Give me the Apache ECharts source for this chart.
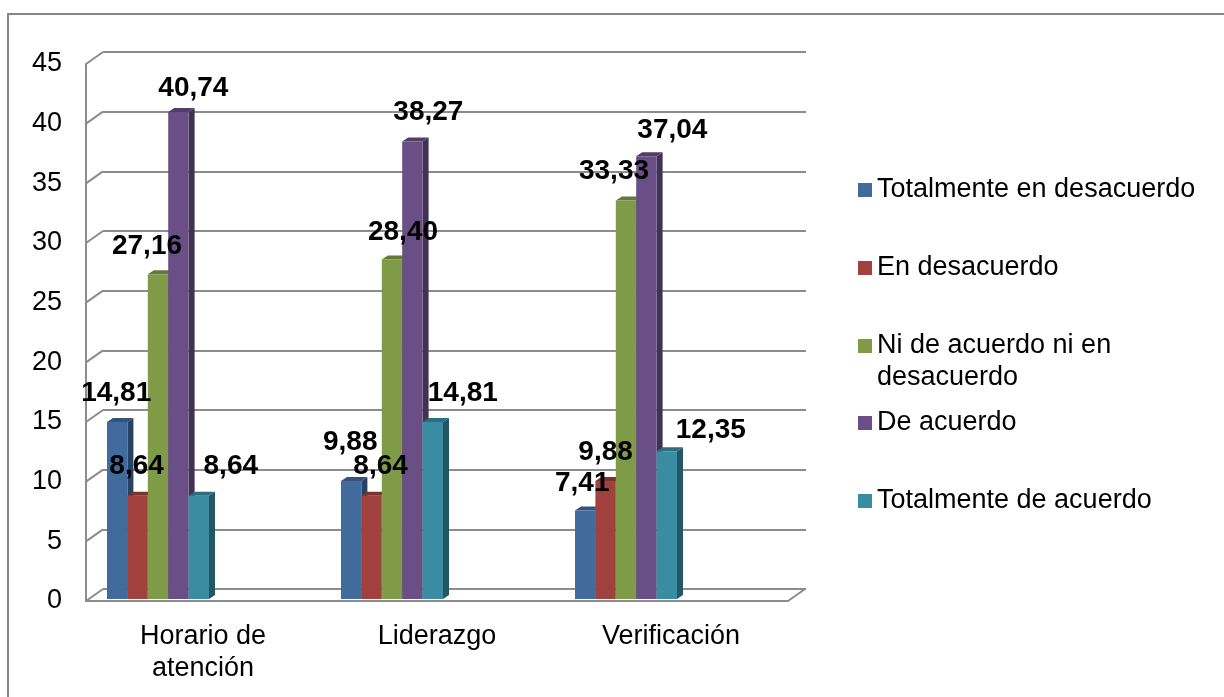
<!DOCTYPE html>
<html>
<head>
<meta charset="utf-8">
<script src="https://cdn.jsdelivr.net/npm/echarts@6/dist/echarts.min.js"></script>
<style>
  html, body { margin: 0; padding: 0; background: #fff; }
  #chart { width: 1224px; height: 697px; }
</style>
</head>
<body>
<div id="chart"></div>
<script>
// datos
const categories = ['Horario de\natención', 'Liderazgo', 'Verificación']
const seriesNames = [
  'Totalmente en desacuerdo',
  'En desacuerdo',
  'Ni de acuerdo ni en desacuerdo',
  'De acuerdo',
  'Totalmente de acuerdo',
]
const totalDesacuerdo = [14.81, 9.88, 7.41]
const enDesacuerdo = [8.64, 8.64, 9.88]
const niAcuerdoNiDesacuerdo = [27.16, 28.4, 33.33]
const deAcuerdo = [40.74, 38.27, 37.04]
const totalAcuerdo = [8.64, 14.81, 12.35]
const yMin = 0
const yMax = 45
const yStep = 5

const seriesValues = [totalDesacuerdo, enDesacuerdo, niAcuerdoNiDesacuerdo, deAcuerdo, totalAcuerdo]
const colors = ['#416a9d', '#a0413e', '#7f9b47', '#694f85', '#3a8ca3']

// ajuste manual de las etiquetas (como en Excel) [dx, dy]
const labelNudge = [
  [[-1, -29], [-1, -39], [-3, -27]],
  [[-1, -29], [9, -29], [0, -29]],
  [[-11, -28], [11, -27], [-12, -29]],
  [[15, -24], [16, -29], [26, -26]],
  [[32, -29], [30, -29], [44, -21]],
]

const FONT = "'Liberation Sans', Arial, sans-serif"
const GRID_COLOR = '#8c8c8c'
const BAR_W = 20.4
const SIDE_DX = 6
const SIDE_DY = -4
const DEPTH_DX = 17
const DEPTH_DY = -12
// rejilla frontal
const FRONT = { left: 86, right: 436, top: 64, bottom: 96 }

const shade = (hex, k) => {
  const n = parseInt(hex.slice(1), 16)
  const r = Math.round(((n >> 16) & 255) * k)
  const g = Math.round(((n >> 8) & 255) * k)
  const b = Math.round((n & 255) * k)
  return 'rgb(' + r + ',' + g + ',' + b + ')'
}

const fmt = (v) => v.toFixed(2).replace('.', ',')

const makeRenderer = (si) => (params, api) => {
  const ci = api.value(0)
  const v = api.value(1)
  const top = api.coord([ci, v])
  const base = api.coord([ci, 0])
  const x0 = top[0] + (si - 2) * BAR_W - BAR_W / 2
  const x1 = x0 + BAR_W
  const c = colors[si]
  const nudge = labelNudge[si][ci]
  return {
    type: 'group',
    children: [
      {
        type: 'polygon',
        shape: { points: [[x1, top[1]], [x1 + SIDE_DX, top[1] + SIDE_DY], [x1 + SIDE_DX, base[1] + SIDE_DY], [x1, base[1]]] },
        style: { fill: shade(c, 0.62) },
      },
      {
        type: 'polygon',
        shape: { points: [[x0, top[1]], [x0 + SIDE_DX, top[1] + SIDE_DY], [x1 + SIDE_DX, top[1] + SIDE_DY], [x1, top[1]]] },
        style: { fill: shade(c, 0.78) },
      },
      {
        type: 'rect',
        shape: { x: x0, y: top[1], width: BAR_W, height: base[1] - top[1] },
        style: { fill: c },
      },
      {
        type: 'text',
        z2: 100,
        style: {
          text: fmt(v),
          x: (x0 + x1) / 2 + nudge[0],
          y: top[1] + nudge[1],
          align: 'center',
          verticalAlign: 'middle',
          font: 'bold 28px ' + FONT,
          fill: '#000',
        },
      },
    ],
  }
}

const legendTops = [174, 252, 298, 407, 485]

const chartDom = document.getElementById('chart')
const myChart = echarts.init(chartDom)

const option = {
  animation: false,
  backgroundColor: '#fff',
  grid: [
    { left: FRONT.left, right: FRONT.right, top: FRONT.top, bottom: FRONT.bottom },
    {
      left: FRONT.left + DEPTH_DX,
      right: FRONT.right - DEPTH_DX - 1,
      top: FRONT.top + DEPTH_DY,
      bottom: FRONT.bottom - DEPTH_DY,
    },
    { left: 41, right: 481, top: 61, bottom: 98 },
  ],
  xAxis: [
    {
      gridIndex: 0,
      type: 'category',
      data: categories,
      axisLine: { show: true, lineStyle: { color: GRID_COLOR, width: 2 } },
      axisTick: { show: false },
      axisLabel: { color: '#000', fontSize: 27, fontFamily: FONT, lineHeight: 32, margin: 20, interval: 0 },
    },
    { gridIndex: 1, type: 'category', data: categories, show: false },
    { gridIndex: 2, type: 'category', data: categories, show: false },
  ],
  yAxis: [
    {
      gridIndex: 0,
      type: 'value',
      min: yMin,
      max: yMax,
      interval: yStep,
      axisLine: { show: true, lineStyle: { color: GRID_COLOR, width: 2 } },
      axisTick: { show: false },
      splitLine: { show: false },
      axisLabel: { color: '#000', fontSize: 27, fontFamily: FONT, margin: 24 },
    },
    {
      gridIndex: 1,
      type: 'value',
      min: yMin,
      max: yMax,
      interval: yStep,
      axisLine: { show: false },
      axisTick: { show: false },
      axisLabel: { show: false },
      splitLine: { show: true, lineStyle: { color: GRID_COLOR, width: 2 } },
    },
    { gridIndex: 2, type: 'value', min: yMin, max: yMax, interval: yStep, show: false, splitLine: { show: false } },
  ],
  legend: seriesNames.map((name, i) => ({
    data: [name],
    orient: 'vertical',
    left: 858,
    top: legendTops[i],
    padding: 0,
    icon: 'rect',
    itemWidth: 14,
    itemHeight: 14,
    selectedMode: false,
    formatter: (n) => (n === 'Ni de acuerdo ni en desacuerdo' ? '\nNi de acuerdo ni en\ndesacuerdo' : n),
    textStyle: { color: '#000', fontSize: 27, fontFamily: FONT, lineHeight: 32 },
  })),
  series: seriesNames.map((name, si) => ({
    name: name,
    type: 'custom',
    xAxisIndex: 2,
    yAxisIndex: 2,
    itemStyle: { color: colors[si] },
    renderItem: makeRenderer(si),
    encode: { x: 0, y: 1 },
    data: seriesValues[si].map((v, ci) => [ci, v]),
  })),
}

myChart.setOption(option)

// pared 3D: diagonales entre el eje frontal y la pared del fondo, y el borde del gráfico
const drawDecor = () => {
  const elements = [
    {
      type: 'rect',
      shape: { x: 8, y: 14, width: 1400, height: 900 },
      style: { fill: 'none', stroke: '#868686', lineWidth: 2 },
      silent: true,
    },
  ]
  const frontRightX = myChart.getWidth() - FRONT.right
  for (let v = yMin; v <= yMax; v += yStep) {
    const yf = myChart.convertToPixel({ yAxisIndex: 0 }, v)
    const yb = myChart.convertToPixel({ yAxisIndex: 1 }, v)
    elements.push({
      type: 'line',
      shape: { x1: FRONT.left, y1: yf, x2: FRONT.left + DEPTH_DX, y2: yb },
      style: { stroke: GRID_COLOR, lineWidth: 2 },
      silent: true,
    })
  }
  const y0f = myChart.convertToPixel({ yAxisIndex: 0 }, yMin)
  const y0b = myChart.convertToPixel({ yAxisIndex: 1 }, yMin)
  elements.push({
    type: 'line',
    shape: { x1: frontRightX, y1: y0f, x2: frontRightX + DEPTH_DX, y2: y0b },
    style: { stroke: GRID_COLOR, lineWidth: 2 },
    silent: true,
  })
  myChart.setOption({ graphic: { elements: elements } })
}
drawDecor()
</script>
</body>
</html>
